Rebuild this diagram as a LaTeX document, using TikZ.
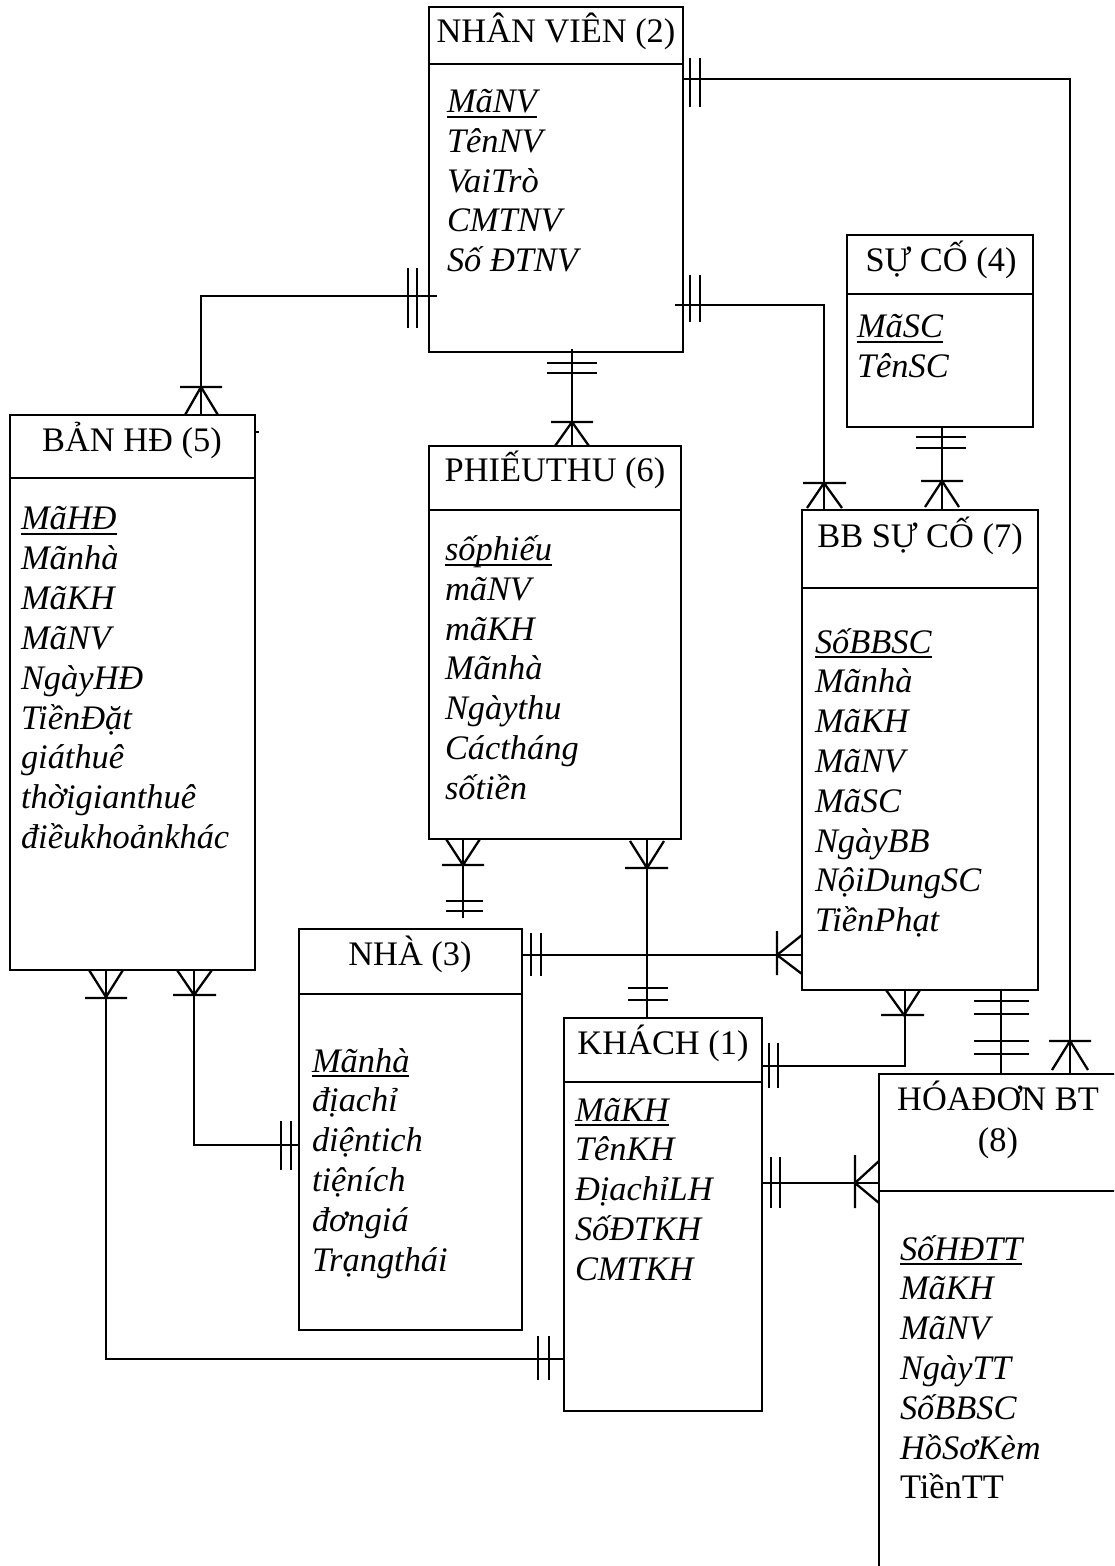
\documentclass[tikz,border=0pt]{standalone}
\usepackage{fontspec}
\setmainfont{Liberation Serif}
% key attribute: underlined at a fixed depth below the baseline
\newcommand\keyattr[1]{\setbox0\hbox{#1}\rlap{\rule[-2.7pt]{\wd0}{1.1pt}}\box0}
% entity box: name, x1, y1, x2, y2, header line y
\newcommand\entity[6]{%
  \node[ebox, minimum width={(#4-#2)*0.5pt}, minimum height={(#5-#3)*0.5pt}] (#1) at (#2,#3) {};
  \draw[ln] (#1.west |- 0,#6) -- (#1.east |- 0,#6);}
% attribute list: name, x, first baseline, items
\newcommand\attrs[4]{%
  \foreach \t [count=\i from 0] in {#4} {\node[attr] (#1-a\i) at (#2,{#3+39.8*\i}) {\t};}}
\begin{document}
\begin{tikzpicture}[x=0.5pt,y=-0.5pt,
  every node/.style={inner sep=0pt, outer sep=0pt, font=\fontsize{17.2}{20}\selectfont},
  ln/.style={line width=1.15pt},
  ebox/.style={draw, line width=1.15pt, rectangle, anchor=north west},
  title/.style={anchor=base},
  attr/.style={anchor=base west, font=\fontsize{17.2}{20}\selectfont\itshape}]
\useasboundingbox (0,0) rectangle (1114,1566);
\clip (0,0) rectangle (1114,1566);

% ---------- entities ----------
\entity{nv}{429}{7}{683}{352}{64}
\node[title] (nv-t) at (556,43) {NHÂN VIÊN (2)};
\attrs{nv}{447}{112.5}{\keyattr{MãNV}, TênNV, VaiTrò, CMTNV, Số ĐTNV}

\entity{sc}{847}{235}{1033}{427}{294}
\node[title] (sc-t) at (941,272) {SỰ CỐ (4)};
\attrs{sc}{857}{338}{\keyattr{MãSC}, TênSC}

\entity{bhd}{10}{415}{255}{970}{478}
\node[title] (bhd-t) at (132,452) {BẢN HĐ (5)};
\attrs{bhd}{21}{530}{\keyattr{MãHĐ}, Mãnhà, MãKH, MãNV, NgàyHĐ, TiềnĐặt, giáthuê, thờigianthuê, điềukhoảnkhác}
\draw[ln] (bhd.north east |- 0,432) -- ++(4,0);

\entity{pt}{429}{446}{681}{839}{510}
\node[title] (pt-t) at (555,482) {PHIẾUTHU (6)};
\attrs{pt}{445}{560.5}{\keyattr{sốphiếu}, mãNV, mãKH, Mãnhà, Ngàythu, Cáctháng, sốtiền}

\entity{bb}{802}{510}{1038}{990}{588}
\node[title] (bb-t) at (920,547) {BB SỰ CỐ (7)};
\attrs{bb}{815}{653}{\keyattr{SốBBSC}, Mãnhà, MãKH, MãNV, MãSC, NgàyBB, NộiDungSC, TiềnPhạt}

\entity{nha}{299}{929}{522}{1330}{994}
\node[title] (nha-t) at (410,965) {NHÀ (3)};
\attrs{nha}{312}{1072}{\keyattr{Mãnhà}, địachỉ, diệntich, tiệních, đơngiá, Trạngthái}

\entity{kh}{564}{1018}{762}{1411}{1082}
\node[title] (kh-t) at (663,1054) {KHÁCH (1)};
\attrs{kh}{575}{1121}{\keyattr{MãKH}, TênKH, ĐịachỉLH, SốĐTKH, CMTKH}

\entity{hd}{879}{1074}{1118}{1590}{1191}
\node[title] (hd-t1) at (998,1110) {HÓAĐƠN BT};
\node[title] (hd-t2) at (998,1151) {(8)};
\attrs{hd}{900}{1260}{\keyattr{SốHĐTT}, MãKH, MãNV, NgàyTT, SốBBSC, HồSơKèm}
\node[anchor=base west] (hd-a6) at (900,{1260+39.8*6}) {TiềnTT};

% ---------- relationships ----------
% NHÂN VIÊN -- BẢN HĐ
\draw[ln] ([xshift=4pt]nv.west |- 0,296) -| (bhd.north -| 201,0);
\draw[ln] (408,268) -- (408,328) (417,268) -- (417,328);
\draw[ln] (180,387) -- (222,387) (185,415) -- (201,387) -- (218,415);

% NHÂN VIÊN -- PHIẾUTHU
\draw[ln] ([yshift=1.5pt]nv.south -| 572,0) -- (pt.north -| 572,0);
\draw[ln] (547,363) -- (597,363) (547,373) -- (597,373);
\draw[ln] (551,422) -- (593,422) (555,446) -- (572,422) -- (589,446);

% NHÂN VIÊN -- BB SỰ CỐ
\draw[ln] ([xshift=-4pt]nv.east |- 0,305) -| (bb.north -| 824,0);
\draw[ln] (690,275) -- (690,322) (700,275) -- (700,322);
\draw[ln] (803,483) -- (846,483) (807,508) -- (824,483) -- (842,508);

% NHÂN VIÊN -- HÓAĐƠN BT
\draw[ln] (nv.east |- 0,79) -| (hd.north -| 1070,0);
\draw[ln] (690,58) -- (690,107) (700,58) -- (700,107);
\draw[ln] (1049,1041) -- (1091,1041) (1052,1070) -- (1070,1041) -- (1088,1070);

% SỰ CỐ -- BB SỰ CỐ
\draw[ln] (sc.south -| 942,0) -- (bb.north -| 942,0);
\draw[ln] (916,437) -- (966,437) (916,448) -- (966,448);
\draw[ln] (921,481) -- (963,481) (925,507) -- (942,481) -- (959,507);

% PHIẾUTHU -- NHÀ
\coordinate (ptnha) at (463,918);
\draw[ln] (pt.south -| 463,0) -- (ptnha);
\draw[ln] (442,865) -- (484,865) (446,839) -- (463,865) -- (480,839);
\draw[ln] (446,901) -- (483,901) (446,911) -- (483,911);

% PHIẾUTHU -- KHÁCH
\draw[ln] (pt.south -| 647,0) -- (kh.north -| 647,0);
\draw[ln] (625,868) -- (668,868) (630,841) -- (647,868) -- (664,841);
\draw[ln] (628,988) -- (668,988) (628,1000) -- (668,1000);

% NHÀ -- BB SỰ CỐ
\draw[ln] (nha.east |- 0,955) -- (bb.west |- 0,955);
\draw[ln] (531,933) -- (531,976) (541,933) -- (541,976);
\draw[ln] (777,931) -- (777,975) (802,935) -- (777,955) -- (802,974);

% BB SỰ CỐ -- KHÁCH
\draw[ln] (bb.south -| 905,0) |- (kh.east |- 0,1066);
\draw[ln] (881,1015) -- (924,1015) (886,990) -- (904,1015) -- (920,990);
\draw[ln] (769,1043) -- (769,1088) (778,1043) -- (778,1088);

% BB SỰ CỐ -- HÓAĐƠN BT
\draw[ln] (bb.south -| 1001,0) -- (hd.north -| 1001,0);
\draw[ln] (974,1001) -- (1029,1001) (974,1014) -- (1029,1014);
\draw[ln] (974,1041) -- (1029,1041) (974,1054) -- (1029,1054);

% KHÁCH -- HÓAĐƠN BT
\draw[ln] (kh.east |- 0,1183) -- (hd.west |- 0,1183);
\draw[ln] (771,1157) -- (771,1208) (780,1157) -- (780,1208);
\draw[ln] (855,1155) -- (855,1208) (879,1161) -- (855,1183) -- (879,1203);

% BẢN HĐ -- NHÀ
\draw[ln] (bhd.south -| 194,0) |- (nha.west |- 0,1145);
\draw[ln] (173,995) -- (216,995) (177,970) -- (194,995) -- (212,970);
\draw[ln] (281,1121) -- (281,1170) (291,1121) -- (291,1170);

% BẢN HĐ -- KHÁCH
\draw[ln] (bhd.south -| 106,0) |- (kh.west |- 0,1359);
\draw[ln] (85,998) -- (127,998) (89,970) -- (106,997) -- (123,970);
\draw[ln] (538,1336) -- (538,1380) (549,1336) -- (549,1380);
\end{tikzpicture}
\end{document}
